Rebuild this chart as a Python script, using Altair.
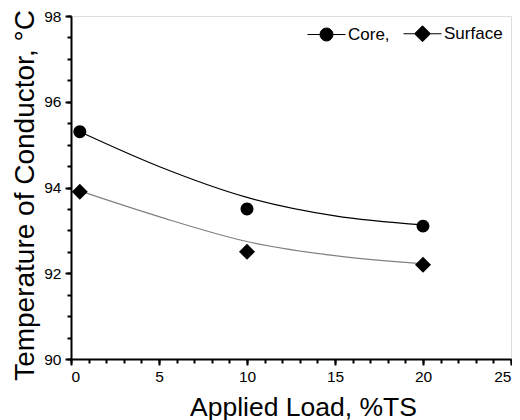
import altair as alt
import pandas as pd

series_names = ["Core", "Surface"]
load_x = [0.5, 10, 20]
core_temp = [95.3, 93.5, 93.1]
surface_temp = [93.9, 92.5, 92.2]

fit_x = [0.5, 5, 10, 15, 20]
core_fit = [95.3, 94.49, 93.77, 93.34, 93.13]
surface_fit = [93.92, 93.32, 92.74, 92.41, 92.22]

x_major = [0, 5, 10, 15, 20, 25]
x_minor = list(range(0, 26))
y_major = [90, 92, 94, 96, 98]
y_minor = [90 + 0.5 * i for i in range(17)]

points = pd.DataFrame({
    "load": load_x + load_x,
    "temp": core_temp + surface_temp,
    "series": ["Core"] * 3 + ["Surface"] * 3,
})
core_line = pd.DataFrame({"load": fit_x, "temp": core_fit})
surface_line = pd.DataFrame({"load": fit_x, "temp": surface_fit})

FONT = "Liberation Sans"
circle_path = "M-0.34,0A0.34,0.34,0,1,1,0.34,0A0.34,0.34,0,1,1,-0.34,0Z"
diamond_path = "M0,-0.42L0.42,0L0,0.42L-0.42,0Z"
circle_key = "M-1,0H-0.34M0.34,0H1M0.34,0A0.34,0.34,0,1,1,-0.34,0A0.34,0.34,0,1,1,0.34,0Z"
diamond_key = "M-1,0H-0.42M0.42,0H1M0,-0.42L0.42,0L0,0.42L-0.42,0Z"

x_scale = alt.Scale(domain=[0, 25], nice=False, zero=False)
y_scale = alt.Scale(domain=[90, 98], nice=False, zero=False)

x_major_axis = alt.Axis(
    orient="bottom",
    values=x_major,
    format="d",
    ticks=True,
    tickSize=6,
    tickWidth=2,
    domainWidth=2,
    domainColor="black",
    tickColor="black",
    labelColor="black",
    labelFont=FONT,
    labelFontSize=15.5,
    labelPadding=4,
    title="Applied Load, %TS",
    titleFont=FONT,
    titleFontSize=26.5,
    titleFontWeight="normal",
    titleColor="black",
    titleBaseline="alphabetic",
    titleX=232,
    titleY=56,
    grid=False,
)
x_minor_axis = alt.Axis(
    orient="bottom",
    values=x_minor,
    labels=False,
    domain=False,
    ticks=True,
    tickSize=4,
    tickWidth=2,
    tickColor="black",
    title=None,
    grid=False,
)
y_major_axis = alt.Axis(
    orient="left",
    values=y_major,
    format="d",
    ticks=True,
    tickSize=6,
    tickWidth=2,
    domainWidth=2,
    domainColor="black",
    tickColor="black",
    labelColor="black",
    labelFont=FONT,
    labelFontSize=15.5,
    labelPadding=4,
    title="Temperature of Conductor, °C",
    titleFont=FONT,
    titleFontSize=28,
    titleFontWeight="normal",
    titleColor="black",
    titleBaseline="alphabetic",
    titleX=-38,
    titleY=179,
    grid=False,
)
y_minor_axis = alt.Axis(
    orient="left",
    values=y_minor,
    labels=False,
    domain=False,
    ticks=True,
    tickSize=4,
    tickWidth=2,
    tickColor="black",
    title=None,
    grid=False,
)

core = alt.Chart(core_line).mark_line(interpolate="monotone", strokeWidth=1.2, color="black").encode(
    x=alt.X("load:Q", scale=x_scale, axis=x_minor_axis),
    y=alt.Y("temp:Q", scale=y_scale, axis=y_minor_axis),
)
surface = alt.Chart(surface_line).mark_line(interpolate="monotone", strokeWidth=1.2, color="#808080").encode(
    x=alt.X("load:Q", scale=x_scale, axis=None),
    y=alt.Y("temp:Q", scale=y_scale, axis=None),
)

pts = alt.Chart(points).mark_point(filled=True, size=1444, color="black", opacity=1).encode(
    x=alt.X("load:Q", scale=x_scale, axis=x_major_axis),
    y=alt.Y("temp:Q", scale=y_scale, axis=y_major_axis),
    shape=alt.Shape(
        "series:N",
        scale=alt.Scale(domain=series_names, range=[circle_path, diamond_path]),
        legend=None,
    ),
)

# invisible copy of the points that only carries the legend (symbols with line segments)
key = alt.Chart(points).mark_point(
    filled=True, size=1444, fill="black", stroke="black", strokeWidth=1, opacity=0
).encode(
    x=alt.X("load:Q", scale=x_scale, axis=None),
    y=alt.Y("temp:Q", scale=y_scale, axis=None),
    shape=alt.Shape(
        "series:N",
        scale=alt.Scale(domain=series_names, range=[circle_key, diamond_key]),
        legend=alt.Legend(
            title=None,
            orient="none",
            legendX=236,
            legendY=-2,
            direction="horizontal",
            symbolSize=1444,
            symbolOpacity=1,
            symbolStrokeWidth=1,
            labelFont=FONT,
            labelFontSize=17,
            labelColor="black",
            labelOffset=2,
            columnPadding=11,
            labelExpr="datum.label == 'Core' ? 'Core,' : datum.label",
        ),
    ),
)

chart = (
    alt.layer(core, surface, pts, key)
    .resolve_axis(x="independent", y="independent")
    .resolve_scale(shape="independent")
    .properties(
        width=440,
        height=343,
        autosize=alt.AutoSizeParams(type="none"),
        padding={"left": 63, "top": 8, "right": 1, "bottom": 61},
    )
    .configure_view(stroke="black", strokeWidth=2)
    .configure(background="white")
)

chart.save("out.html", embed_options={"renderer": "svg", "actions": False})
